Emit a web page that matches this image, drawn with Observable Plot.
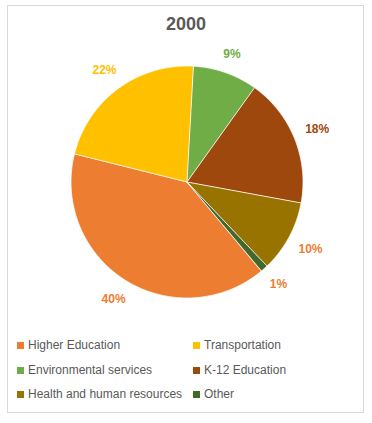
<!DOCTYPE html>
<html>
<head>
<meta charset="utf-8">
<script src="https://cdn.jsdelivr.net/npm/d3@7"></script>
<script src="https://cdn.jsdelivr.net/npm/@observablehq/plot@0.6"></script>
<style>
  html, body { margin: 0; padding: 0; background: #fff; }
  #page { position: relative; width: 372px; height: 423px; overflow: hidden; font-family: "Liberation Sans", Arial, sans-serif; }
  #frame { position: absolute; left: 7px; top: 5px; width: 357px; height: 408px; border: 1px solid #D9D9D9; box-sizing: border-box; }
  #title { position: absolute; left: 0; width: 372px; top: 13px; text-align: center; font-weight: bold; font-size: 18px; color: #595959; line-height: 22px; }
  #chart { position: absolute; left: 0; top: 31px; }
  #legend { position: absolute; left: 0; top: 0; width: 372px; }
  .item { position: absolute; font-size: 12px; color: #595959; line-height: 14px; white-space: nowrap; }
  .sw { position: absolute; width: 7px; height: 7px; }
</style>
</head>
<body>
<div id="page">
  <div id="frame"></div>
  <div id="title"></div>
  <div id="chart"></div>
  <div id="legend"></div>
</div>
<script>
const title = "2000";
const categories = ["Higher Education", "Transportation", "Environmental services", "K-12 Education", "Health and human resources", "Other"];
const values = [40, 22, 9, 18, 10, 1];
const labels = ["40%", "22%", "9%", "18%", "10%", "1%"];
const colors = ["#ED7D31", "#FFC000", "#70AD47", "#9E480E", "#997300", "#43682B"];
const labelColors = ["#ED7D31", "#FFC000", "#70AD47", "#9E480E", "#ED7D31", "#ED7D31"];

// layout constants
const W = 372, H = 300, CX = 186.5, CY = 150.5, R = 116;
const startDeg = 140;
const labelGap = 11;      // px between pie edge and label box
const labelFont = 12;

document.getElementById("title").textContent = title;

const arcs = d3.pie().sort(null)
  .startAngle(startDeg * Math.PI / 180)
  .endAngle(startDeg * Math.PI / 180 + 2 * Math.PI)(values);

// polygon points for each slice
const pts = [];
arcs.forEach((a, i) => {
  const cat = categories[i];
  pts.push({cat, x: 0, y: 0});
  const n = Math.max(2, Math.ceil((a.endAngle - a.startAngle) / (Math.PI / 360)));
  for (let k = 0; k <= n; k++) {
    const t = a.startAngle + (a.endAngle - a.startAngle) * k / n;
    pts.push({cat, x: Math.sin(t), y: Math.cos(t)});
  }
});

// label placed so its box sits just outside the pie along the slice's mid-angle
const lab = arcs.map((a, i) => {
  const m = (a.startAngle + a.endAngle) / 2;
  const txt = labels[i];
  const digits = txt.replace("%", "").length;
  const hw = (digits * 0.556 + 0.889) * labelFont / 2;
  const hh = 6;
  const d = (R + labelGap + hw * Math.abs(Math.sin(m)) + hh * Math.abs(Math.cos(m))) / R;
  return {label: txt, color: labelColors[i], x: d * Math.sin(m), y: d * Math.cos(m)};
});

const chart = Plot.plot({
  width: W, height: H,
  margin: 0,
  x: {domain: [-1, 1], range: [CX - R, CX + R], axis: null},
  y: {domain: [-1, 1], range: [CY + R, CY - R], axis: null},
  color: {domain: categories, range: colors},
  style: {background: "transparent", overflow: "visible"},
  marks: [
    Plot.line(pts, {x: "x", y: "y", z: "cat", fill: "cat", stroke: "#ffffff", strokeWidth: 0.75, curve: "linear-closed"}),
    Plot.text(lab, {x: "x", y: "y", text: "label", fill: d => d.color, fontSize: labelFont, fontWeight: "bold", fontFamily: "Liberation Sans, Arial, sans-serif"})
  ]
});
document.getElementById("chart").appendChild(chart);

// legend
const legend = document.getElementById("legend");
const colX = [17, 193];
const rowY = [345, 370, 394];
categories.forEach((c, i) => {
  const col = i % 2, row = Math.floor(i / 2);
  const sw = document.createElement("div");
  sw.className = "sw";
  sw.style.left = colX[col] + "px";
  sw.style.top = (rowY[row] - 3.5) + "px";
  sw.style.background = colors[i];
  legend.appendChild(sw);
  const t = document.createElement("div");
  t.className = "item";
  t.style.left = (colX[col] + 11) + "px";
  t.style.top = (rowY[row] - 7.5) + "px";
  t.textContent = c;
  legend.appendChild(t);
});
</script>
</body>
</html>
